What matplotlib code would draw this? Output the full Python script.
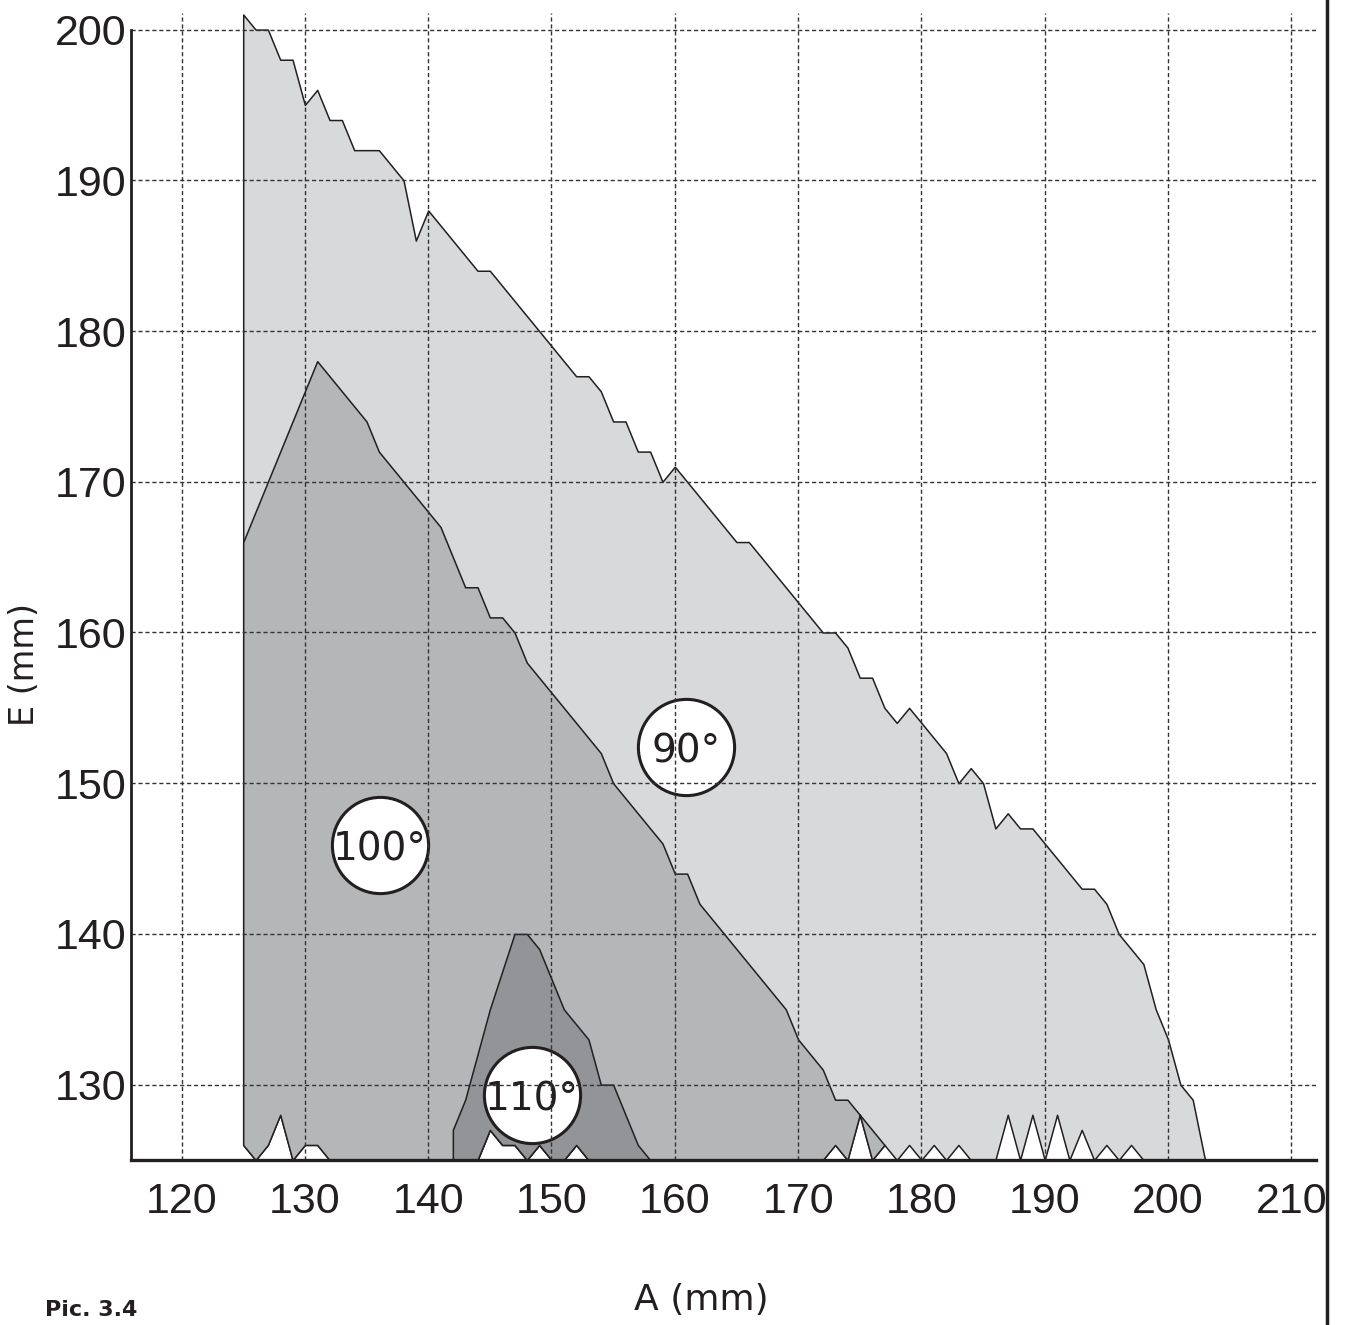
import numpy as np
import matplotlib
matplotlib.use("Agg")
import matplotlib.pyplot as plt
from matplotlib.lines import Line2D

# A (mm) sampled every 1 mm
a_vals = np.arange(125, 204)

# lower boundary shared by all regions (small white spikes along the base)
e_low = [126, 125, 126, 128, 125, 126, 126, 125, 125, 125,   # 125-134
         125, 125, 125, 125, 125, 125, 125, 125, 125, 125,   # 135-144
         127, 126, 126, 125, 126, 125, 125, 126, 125, 125,   # 145-154
         125, 125, 125, 125, 125, 125, 125, 125, 125, 125,   # 155-164
         125, 125, 125, 125, 125, 125, 125, 125, 126, 125,   # 165-174
         128, 125, 126, 125, 126, 125, 126, 125, 126, 125,   # 175-184
         125, 125, 128, 125, 128, 125, 128, 125, 127, 125,   # 185-194
         126, 125, 126, 125, 125, 125, 125, 125, 125]        # 195-203

# upper boundary, 90 deg (A = 125..203)
e90 = [201, 200, 200, 198, 198, 195, 196, 194, 194, 192,
       192, 192, 191, 190, 186, 188, 187, 186, 185, 184,
       184, 183, 182, 181, 180, 179, 178, 177, 177, 176,
       174, 174, 172, 172, 170, 171, 170, 169, 168, 167,
       166, 166, 165, 164, 163, 162, 161, 160, 160, 159,
       157, 157, 155, 154, 155, 154, 153, 152, 150, 151,
       150, 147, 148, 147, 147, 146, 145, 144, 143, 143,
       142, 140, 139, 138, 135, 133, 130, 129, 125]

# upper boundary, 100 deg (A = 125..177)
e100 = [166, 168, 170, 172, 174, 176, 178, 177, 176, 175,
        174, 172, 171, 170, 169, 168, 167, 165, 163, 163,
        161, 161, 160, 158, 157, 156, 155, 154, 153, 152,
        150, 149, 148, 147, 146, 144, 144, 142, 141, 140,
        139, 138, 137, 136, 135, 133, 132, 131, 129, 129,
        128, 127, 126]

# upper boundary, 110 deg (A = 142..158)
e110 = [127, 129, 132, 135, 137.5, 140, 140, 139, 137, 135,
        134, 133, 130, 130, 128, 126, 125]

labels = ["90°", "100°", "110°"]
label_pos = [(160.9, 152.4), (136.1, 145.9), (148.4, 129.3)]

x_ticks = list(range(120, 211, 10))
y_ticks = list(range(130, 201, 10))

low = np.array(e_low, dtype=float)

fig = plt.figure(figsize=(13.47, 13.25), dpi=100, facecolor='w')
ax = fig.add_axes([131/1347, 165/1325, 1185/1347, 1147/1325])

n100 = len(e100)
i110 = 142 - 125
ax.fill_between(a_vals, low, e90, facecolor='#d8d9db', edgecolor='#231f20', lw=1.1, zorder=1)
ax.fill_between(a_vals[:n100], low[:n100], e100, facecolor='#b5b6b8', edgecolor='#231f20', lw=1.1, zorder=1.1)
ax.fill_between(a_vals[i110:i110+len(e110)], low[i110:i110+len(e110)], e110,
                facecolor='#939497', edgecolor='#231f20', lw=1.1, zorder=1.2)

for txt, (px, py) in zip(labels, label_pos):
    ax.scatter([px], [py], s=4800, facecolor='white', edgecolor='#231f20', linewidth=2.2, zorder=1.5)
    ax.text(px, py - 0.3, txt, ha='center', va='center', fontsize=28, family='DejaVu Sans',
            color='#231f20', zorder=2)

ax.set_xlim(115.9, 212.0)
ax.set_ylim(125, 201.1)
ax.set_xticks(x_ticks)
ax.set_yticks(y_ticks)
ax.tick_params(axis='both', length=0, labelsize=31, colors='#231f20')
ax.tick_params(axis='x', pad=16)
ax.tick_params(axis='y', pad=3)
for lab in ax.get_xticklabels() + ax.get_yticklabels():
    lab.set_family('Liberation Sans')

ax.set_axisbelow(False)
ax.grid(True, color='#333333', linestyle=(0, (3, 2)), linewidth=1.0)

for s in ['top', 'right']:
    ax.spines[s].set_visible(False)
ax.spines['left'].set_bounds(125, 200)
ax.spines['left'].set_linewidth(2)
ax.spines['bottom'].set_linewidth(2.4)
ax.spines['left'].set_color('#231f20')
ax.spines['bottom'].set_color('#231f20')
ax.spines['left'].set_zorder(3)
ax.spines['bottom'].set_zorder(3)

fig.text(701/1347, 1 - 1300/1325, "A (mm)", ha='center', va='center', fontsize=26,
         family='DejaVu Sans', color='#231f20')
fig.text(24/1347, 1 - 665/1325, "E (mm)", ha='center', va='center', fontsize=24,
         family='DejaVu Sans', rotation=90, color='#231f20')
fig.text(45/1347, 1 - 1310/1325, "Pic. 3.4", ha='left', va='center', fontsize=16,
         family='DejaVu Sans', weight='bold', color='#231f20')

fig.add_artist(Line2D([1327/1347, 1327/1347], [0, 1], color='#231f20', lw=2.5,
                      transform=fig.transFigure))

plt.savefig("out.png", dpi=100, facecolor='w')
